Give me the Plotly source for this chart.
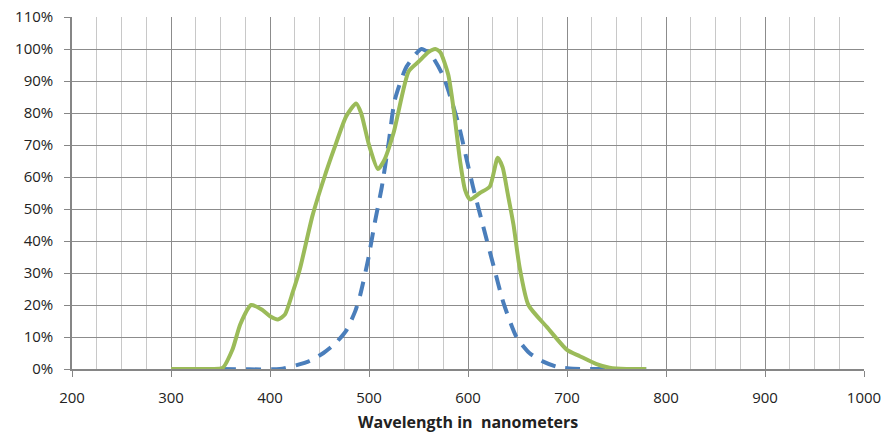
import plotly.graph_objects as go

# Green (solid) series
green_x = [300, 320, 340, 352, 362, 370, 381, 392, 400, 408, 415, 423, 430, 443, 455, 465, 477, 487, 492,
           500, 509, 515, 525, 540, 550, 560, 567, 572, 580, 586, 592, 597, 602, 612, 622, 630, 635, 640,
           646, 652, 661, 680, 700, 713, 730, 743, 760, 780]
green_y = [0, 0, 0, 0.3, 6, 14, 20, 18.5, 16.5, 15.5, 17, 24, 31, 48, 60, 69, 79, 83, 80,
           70, 62.5, 65, 74, 93, 96, 99, 100, 99, 92, 80, 65, 56, 53, 55, 57, 66, 63, 55,
           45, 32, 20, 13, 6, 4, 1.5, 0.4, 0, 0]

# Blue (dashed) series
blue_x = [300, 350, 410, 427, 440, 454, 466, 477, 486, 491, 499, 506, 513, 520, 526, 538, 553, 563, 575,
          590, 599, 605, 615, 626, 636, 649, 662, 676, 690, 706, 740, 780]
blue_y = [0, 0, 0, 1.2, 2.5, 5, 8, 12, 18, 23, 34, 46, 57, 71, 84, 94.5, 100, 98, 91.5,
          77, 65, 57, 45, 32, 20.5, 10, 5, 2.3, 0.7, 0.1, 0, 0]

x_ticks = [200, 300, 400, 500, 600, 700, 800, 900, 1000]
y_ticks = list(range(0, 111, 10))
y_labels = [f"{v}%" for v in y_ticks]
x_title = "Wavelength in  nanometers"

fig = go.Figure()
fig.add_trace(go.Scatter(x=blue_x, y=blue_y, mode="lines", cliponaxis=False,
                         line=dict(color="#4A7EBB", width=4, dash="15px,10px", shape="spline", smoothing=0.6)))
fig.add_trace(go.Scatter(x=green_x, y=green_y, mode="lines", cliponaxis=False,
                         line=dict(color="#9BBB59", width=4, shape="spline", smoothing=0.6)))

fig.update_layout(
    width=887, height=433,
    margin=dict(l=72, r=23, t=17, b=64),
    paper_bgcolor="white", plot_bgcolor="white",
    showlegend=False,
    font=dict(family="Open Sans, Liberation Sans, sans-serif", size=14, color="#222222"),
)
fig.add_annotation(text="<b>" + x_title + "</b>", xref="paper", yref="paper", x=0.5, y=0,
                   xanchor="center", yanchor="top", yshift=-40, showarrow=False,
                   font=dict(size=16, color="#222222"))
fig.update_xaxes(
    range=[200, 1000], tickvals=x_ticks, ticktext=[str(v) for v in x_ticks],
    showgrid=True, gridcolor="#8c8c8c", gridwidth=1,
    minor=dict(dtick=25, tick0=200, showgrid=True, gridcolor="#c8c8c8", gridwidth=1),
    showline=True, linecolor="#868686", linewidth=1.5,
    ticks="outside", ticklen=6, tickcolor="#868686",
    zeroline=False, tickfont=dict(size=15), ticklabelstandoff=8,
    automargin=False,
)
fig.update_yaxes(
    range=[0, 110], tickvals=y_ticks, ticktext=y_labels,
    showgrid=True, gridcolor="#8c8c8c", gridwidth=1,
    showline=True, linecolor="#868686", linewidth=1.5,
    ticks="outside", ticklen=6, tickcolor="#868686",
    zeroline=False, tickfont=dict(size=15), ticklabelstandoff=8,
    automargin=False,
)

fig.write_html("out.html", config={"displayModeBar": False},
               post_script="document.body.style.margin='0';")
